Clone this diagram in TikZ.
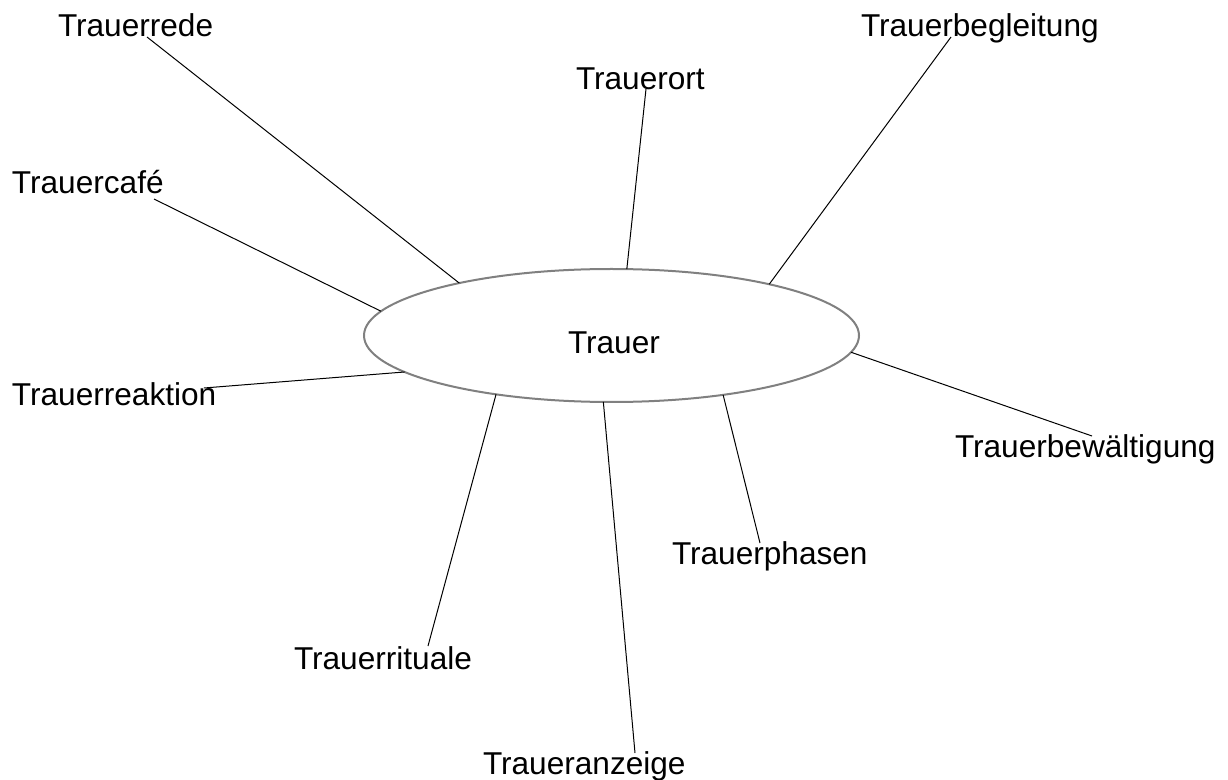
\documentclass[tikz,border=0pt]{standalone}
\usepackage{fontspec}
\setmainfont{Liberation Sans}
\usetikzlibrary{shapes.geometric}
\tikzset{
  hub/.style={ellipse, draw=black!50, line width=1.5pt, fill=white,
    minimum width=371.25pt, minimum height=99.75pt, inner sep=0pt, outer sep=0pt},
  term/.style={anchor=base west, inner sep=0pt, outer sep=0pt, font=\fontsize{23.7pt}{28pt}\selectfont},
  spoke/.style={draw=black, line width=0.75pt}
}
\begin{document}
\begin{tikzpicture}[x=0.75pt, y=-0.75pt]
  \useasboundingbox (0,0) rectangle (1228,780);

  % central ellipse
  \node[hub] (c) at (611.5,335.5) {};
  \node[term] (tr) at (568,354) {Trauer};

  % surrounding terms
  \node[term] (rede)   at (58,37)   {Trauerrede};
  \node[term] (ort)    at (576,90)  {Trauerort};
  \node[term] (begl)   at (861,37)  {Trauerbegleitung};
  \node[term] (cafe)   at (12,194)  {Trauercafé};
  \node[term] (reak)   at (12,406)  {Trauerreaktion};
  \node[term] (bew)    at (955,458) {Trauerbewältigung};
  \node[term] (rit)    at (294,669) {Trauerrituale};
  \node[term] (anz)    at (483,774) {Traueranzeige};
  \node[term] (phas)   at (672,564) {Trauerphasen};

  % connector ends at the terms
  \coordinate (e-rede) at (147,37);
  \coordinate (e-ort)  at (646,89);
  \coordinate (e-begl) at (951,37);
  \coordinate (e-cafe) at (154,199);
  \coordinate (e-reak) at (204,388);
  \coordinate (e-bew)  at (1092,436);
  \coordinate (e-rit)  at (428,646);
  \coordinate (e-anz)  at (635,753);
  \coordinate (e-phas) at (760,543);

  % spokes
  \draw[spoke] (c.161)   -- (e-rede);
  \draw[spoke] (c.77.7)  -- (e-ort);
  \draw[spoke] (c.18)    -- (e-begl);
  \draw[spoke] (c.174.1) -- (e-cafe);
  \draw[spoke] (c.190)   -- (e-reak);
  \draw[spoke] (c.-4.1)  -- (e-bew);
  \draw[spoke] (c.-153.3) -- (e-rit);
  \draw[spoke] (c.-97.2) -- (e-anz);
  \draw[spoke] (c.-28.3) -- (e-phas);
\end{tikzpicture}
\end{document}
